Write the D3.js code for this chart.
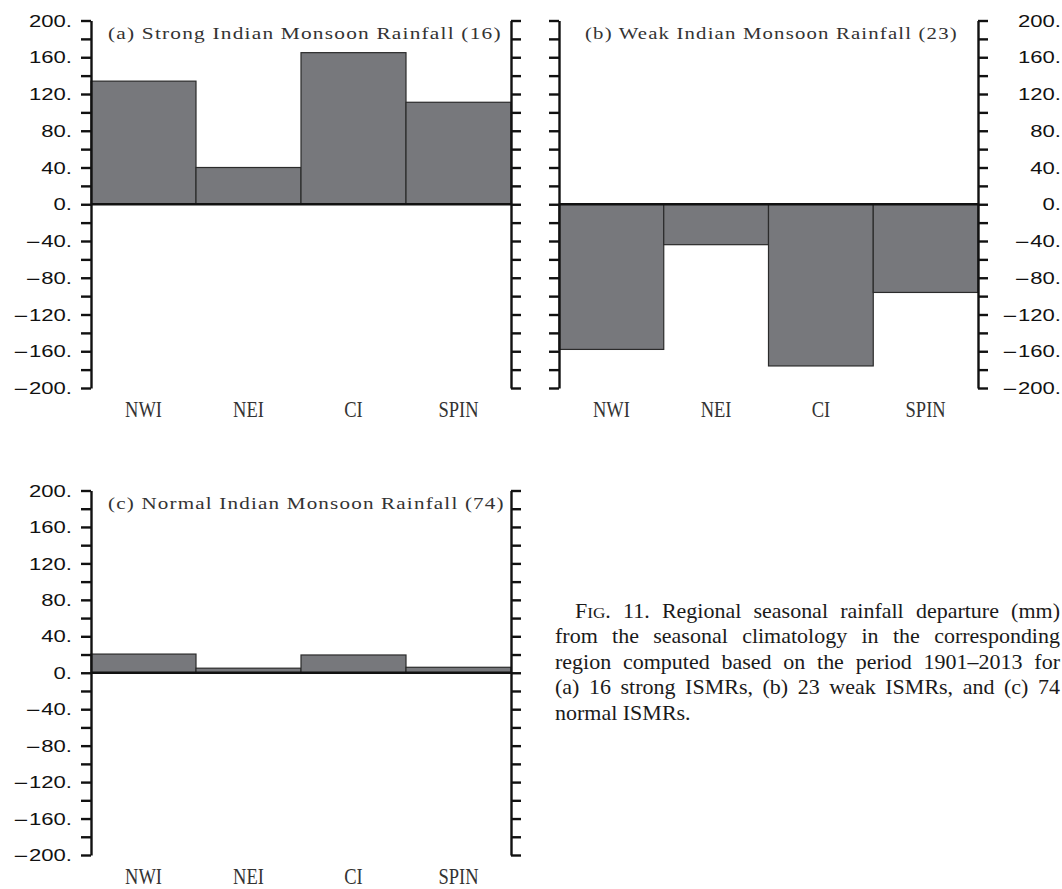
<!DOCTYPE html>
<html>
<head>
<meta charset="utf-8">
<script src="https://cdn.jsdelivr.net/npm/d3@7"></script>
<style>
  body { margin: 0; background: #fff; }
  svg { display: block; }
</style>
</head>
<body>
<svg id="fig" width="1062" height="889"></svg>
<script>
// Regional categories and seasonal rainfall departures (mm)
const categories = ["NWI", "NEI", "CI", "SPIN"];
const strongRain = [134, 40, 165, 111];
const weakRain = [-158, -44, -176, -96];
const normalRain = [20.5, 5, 19.5, 6];

// Axis tick values
const yLabelTicks = [200, 160, 120, 80, 40, 0, -40, -80, -120, -160, -200];
const yAllTicks = d3.range(-200, 201, 20);
const yDomain = [-200, 200];

const panelTitles = [
  "(a) Strong Indian Monsoon Rainfall (16)",
  "(b) Weak Indian Monsoon Rainfall (23)",
  "(c) Normal Indian Monsoon Rainfall (74)"
];

const captionLines = [
  "FIG. 11. Regional seasonal rainfall departure (mm)",
  "from the seasonal climatology in the corresponding",
  "region computed based on the period 1901–2013 for",
  "(a) 16 strong ISMRs, (b) 23 weak ISMRs, and (c) 74",
  "normal ISMRs."
];

const svg = d3.select("#fig");

const panels = [
  { title: panelTitles[0], values: strongRain, left: 91, right: 511, top: 20.5, bottom: 388,
    labelSide: "left", titleX: 108, titleW: 394 },
  { title: panelTitles[1], values: weakRain, left: 559, right: 978, top: 20.5, bottom: 388,
    labelSide: "right", titleX: 585, titleW: 373 },
  { title: panelTitles[2], values: normalRain, left: 91, right: 511, top: 490.5, bottom: 855,
    labelSide: "left", titleX: 108, titleW: 397 }
];

panels.forEach(p => {
  const g = svg.append("g");
  const y = d3.scaleLinear().domain(yDomain).range([p.bottom, p.top]);
  const x = d3.scaleBand().domain(categories).range([p.left, p.right]).padding(0);

  // bars
  g.selectAll("rect.bar")
    .data(categories.map((c, i) => ({ c, v: p.values[i] })))
    .join("rect")
    .attr("class", "bar")
    .attr("x", d => x(d.c))
    .attr("width", x.bandwidth())
    .attr("y", d => y(Math.max(0, d.v)))
    .attr("height", d => Math.abs(y(d.v) - y(0)))
    .attr("fill", "#77787c")
    .attr("stroke", "#2b2b2b")
    .attr("stroke-width", 1.2);

  // zero line
  g.append("line")
    .attr("x1", p.left).attr("x2", p.right)
    .attr("y1", y(0)).attr("y2", y(0))
    .attr("stroke", "#111").attr("stroke-width", 2.4);

  // left and right axes with outward ticks
  const axL = d3.axisLeft(y).tickValues(yAllTicks).tickSize(10).tickSizeOuter(0).tickFormat("");
  const axR = d3.axisRight(y).tickValues(yAllTicks).tickSize(10).tickSizeOuter(0).tickFormat("");
  [[axL, p.left], [axR, p.right]].forEach(([ax, xx]) => {
    const a = g.append("g").attr("transform", `translate(${xx},0)`).call(ax);
    a.select(".domain").attr("stroke", "#111").attr("stroke-width", 2.4);
    a.selectAll(".tick line").attr("stroke", "#111").attr("stroke-width", 2.4);
  });

  // tick labels: a wide minus sign followed by the number and a trailing point
  const labX = p.labelSide === "left" ? p.left - 19 : 1061;
  const labs = g.selectAll("text.ylab")
    .data(yLabelTicks)
    .join("text")
    .attr("class", "ylab")
    .attr("transform", d => `translate(${labX},${y(d)}) scale(1.3,1)`)
    .attr("dy", "0.36em")
    .attr("text-anchor", "end")
    .style("font-family", "'Liberation Sans', Arial, sans-serif")
    .style("font-size", "17px")
    .attr("fill", "#111");
  labs.filter(d => d < 0).append("tspan")
    .style("font-family", "'DejaVu Sans', sans-serif")
    .style("font-size", "15px")
    .text("\u2212");
  labs.append("tspan").text(d => Math.abs(d) + ".");

  // category labels
  g.selectAll("text.xlab")
    .data(categories)
    .join("text")
    .attr("class", "xlab")
    .attr("transform", d => `translate(${x(d) + x.bandwidth() / 2},${p.bottom + 29}) scale(1,1.3)`)
    .attr("text-anchor", "middle")
    .style("font-family", "'Liberation Serif', 'Times New Roman', serif")
    .style("font-size", "18.5px")
    .attr("fill", "#333")
    .text(d => d);

  // panel title, stretched horizontally to its box
  const t = g.append("text")
    .attr("y", p.top + 18.5)
    .style("font-family", "'Liberation Serif', 'Times New Roman', serif")
    .style("font-size", "16px")
    .style("letter-spacing", "0.9px")
    .attr("fill", "#333")
    .text(p.title);
  const natural = t.node().getComputedTextLength();
  t.attr("transform", `translate(${p.titleX},0) scale(${p.titleW / natural},1)`);
});

// caption, justified
const capX = 555, capRight = 1060, capTop = 618, capLead = 25.4, capSX = 1.1, capIndent = 20;
const cap = svg.append("g")
  .attr("transform", `translate(${capX},0) scale(${capSX},1)`)
  .style("font-family", "'Liberation Serif', 'Times New Roman', serif")
  .style("font-size", "20px")
  .attr("fill", "#1a1a1a");
const capW = (capRight - capX) / capSX;

captionLines.forEach((line, i) => {
  const words = line.split(" ");
  const baseY = capTop + i * capLead;
  const startX = (i === 0 ? capIndent : 0) / capSX;
  const nodes = words.map(w => {
    const t = cap.append("text").attr("y", baseY);
    if (w === "FIG.") {
      t.append("tspan").text("F");
      t.append("tspan").style("font-size", "0.78em").text("IG");
      t.append("tspan").text(".");
    } else {
      t.text(w);
    }
    return t;
  });
  const widths = nodes.map(n => n.node().getComputedTextLength());
  const sum = d3.sum(widths);
  const last = i === captionLines.length - 1;
  const gap = last ? 5 : (capW - startX - sum) / (words.length - 1);
  let xx = startX;
  nodes.forEach((n, k) => {
    n.attr("x", xx);
    xx += widths[k] + gap;
  });
});
</script>
</body>
</html>
